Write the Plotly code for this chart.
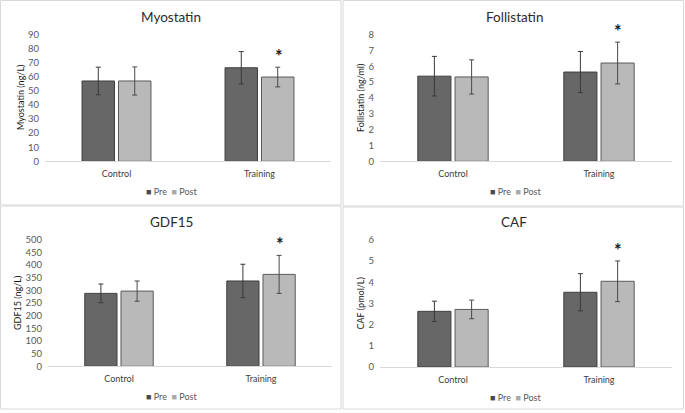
import plotly.graph_objects as go

W, H = 685, 413

categories = ["Control", "Training"]
series_names = ["Pre", "Post"]

panel_titles = ["Myostatin", "Follistatin", "GDF15", "CAF"]
y_titles = ["Myostatin (ng/L)", "Follistatin (ng/ml)", "GDF15 (ng/L)", "CAF (pmol/L)"]
y_max = [90, 8, 500, 6]
y_dtick = [10, 1, 50, 1]

myostatin_pre = [57.1, 66.5]
myostatin_pre_err = [9.8, 11.5]
myostatin_post = [57.1, 59.9]
myostatin_post_err = [10.0, 7.0]

follistatin_pre = [5.38, 5.64]
follistatin_pre_err = [1.25, 1.3]
follistatin_post = [5.33, 6.21]
follistatin_post_err = [1.08, 1.32]

gdf15_pre = [288, 337]
gdf15_pre_err = [37, 66]
gdf15_post = [297, 363]
gdf15_post_err = [40, 75]

caf_pre = [2.63, 3.53]
caf_pre_err = [0.48, 0.88]
caf_post = [2.72, 4.05]
caf_post_err = [0.44, 0.96]

# significance marker on Training Post
sig_category = "Training"

panels = [
    (myostatin_pre, myostatin_pre_err, myostatin_post, myostatin_post_err),
    (follistatin_pre, follistatin_pre_err, follistatin_post, follistatin_post_err),
    (gdf15_pre, gdf15_pre_err, gdf15_post, gdf15_post_err),
    (caf_pre, caf_pre_err, caf_post, caf_post_err),
]

# plot areas in pixels: x0, x1, ytop, ybottom
areas = [
    (45, 331, 34.7, 161.3),
    (380, 672, 34.7, 161.3),
    (48, 332, 239.7, 366.3),
    (380, 672, 240, 367),
]
title_pos = [(171, 17), (514, 17), (171, 222), (514, 222)]
ytitle_x = [20, 360, 17, 360]
legend_pos = [(171, 191.5), (515, 191.5), (171, 396.5), (515, 397.5)]
borders = [(0.5, 0.5, 341, 205), (343, 0.5, 683.5, 206), (0.5, 206, 341, 409), (343, 207, 683.5, 409)]

pre_color = "#676767"
post_color = "#b9b9b9"
FONT = "Lato, Open Sans, sans-serif"

fig = go.Figure()
layout = dict(
    width=W, height=H, margin=dict(l=0, r=0, t=0, b=0, autoexpand=False),
    paper_bgcolor="white", plot_bgcolor="white",
    barmode="group", bargap=0.49, bargroupgap=0.11,
    font=dict(family=FONT, color="#595959", size=9),
    showlegend=False,
)
annotations = []
shapes = []

legend_text = (
    '<span style="color:#4a4a4a">■</span> ' + series_names[0] +
    '  <span style="color:#a9a9a9">■</span> ' + series_names[1]
)

for i, (pre, pre_e, post, post_e) in enumerate(panels):
    n = "" if i == 0 else str(i + 1)
    xa, ya = "x" + n, "y" + n
    fig.add_trace(go.Bar(
        x=categories, y=pre, name=series_names[0], xaxis=xa, yaxis=ya,
        marker=dict(color=pre_color, line=dict(color="#3f3f3f", width=1)),
        error_y=dict(type="data", array=pre_e, visible=True, color="#3a3a3a", thickness=1, width=2.5),
    ))
    fig.add_trace(go.Bar(
        x=categories, y=post, name=series_names[1], xaxis=xa, yaxis=ya,
        marker=dict(color=post_color, line=dict(color="#5a5a5a", width=1)),
        error_y=dict(type="data", array=post_e, visible=True, color="#4a4a4a", thickness=1, width=2.5),
    ))
    x0, x1, yt, yb = areas[i]
    layout["xaxis" + n] = dict(
        domain=[x0 / W, x1 / W], anchor=ya, showgrid=False, showline=True,
        linecolor="#d9d9d9", linewidth=1, ticks="", zeroline=False,
        range=[-0.5, len(categories) - 0.5], automargin=False,
        tickfont=dict(size=9, color="#404040", family=FONT), ticklabelstandoff=4,
        fixedrange=True,
    )
    layout["yaxis" + n] = dict(
        domain=[1 - yb / H, 1 - yt / H], anchor=xa, range=[0, y_max[i]],
        dtick=y_dtick[i], showgrid=False, zeroline=False, showline=False,
        ticks="", tickfont=dict(size=9.5, color="#595959", family=FONT),
        ticklabelstandoff=5, automargin=False, fixedrange=True,
    )
    lx, ly = legend_pos[i]
    annotations.append(dict(
        text=legend_text, x=lx / W, y=1 - ly / H, xref="paper", yref="paper",
        showarrow=False, font=dict(size=9, color="#595959", family=FONT),
        xanchor="center", yanchor="middle",
    ))
    tx, ty = title_pos[i]
    annotations.append(dict(
        text=panel_titles[i], x=tx / W, y=1 - ty / H, xref="paper", yref="paper",
        showarrow=False, font=dict(size=13.5, color="#2b2b2b", family=FONT),
        xanchor="center", yanchor="middle",
    ))
    annotations.append(dict(
        text=y_titles[i], x=ytitle_x[i] / W, y=1 - (yt + yb) / 2 / H, xref="paper", yref="paper",
        showarrow=False, textangle=-90, font=dict(size=9, color="#1a1a1a", family=FONT),
        xanchor="center", yanchor="middle",
    ))
    k = categories.index(sig_category)
    annotations.append(dict(
        text="<b>*</b>", x=k, xref=xa, y=post[k] + post_e[k], yref=ya,
        showarrow=False, font=dict(size=18, color="#1a1a1a", family=FONT),
        xanchor="center", yanchor="bottom", yshift=-2, xshift=19,
    ))
    bx0, by0, bx1, by1 = borders[i]
    shapes.append(dict(
        type="rect", xref="paper", yref="paper",
        x0=bx0 / W, x1=bx1 / W, y0=1 - by1 / H, y1=1 - by0 / H,
        line=dict(color="#d9d9d9", width=1), fillcolor="rgba(0,0,0,0)", layer="below",
    ))

layout["annotations"] = annotations
layout["shapes"] = shapes
fig.update_layout(**layout)
fig.write_html(
    "out.html",
    config={"displayModeBar": False},
    post_script="document.body.style.margin='0';document.body.style.overflow='hidden';",
)
